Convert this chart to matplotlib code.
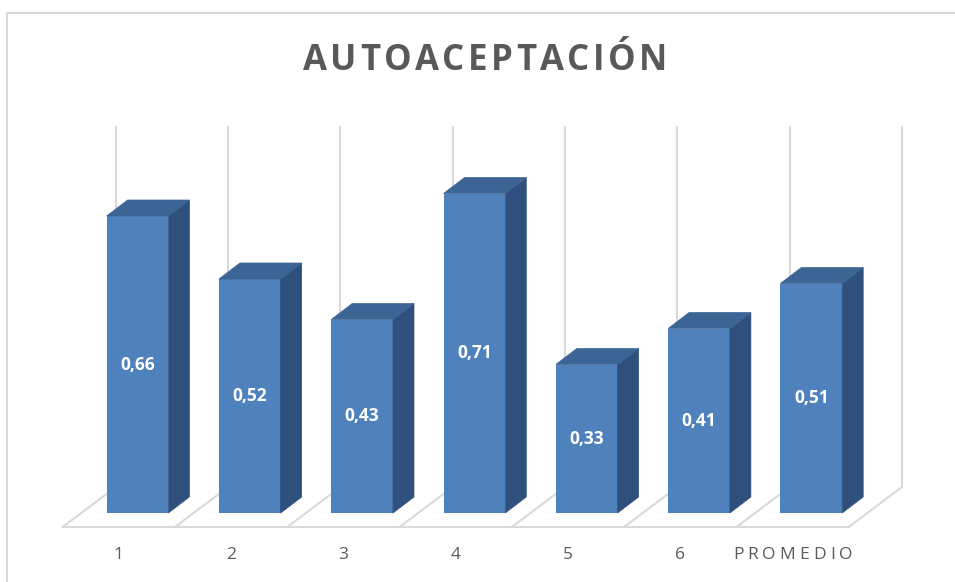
import matplotlib
matplotlib.use('Agg')
import matplotlib.pyplot as plt
from matplotlib.patches import Polygon

categories = ['1', '2', '3', '4', '5', '6', 'PROMEDIO']
values = [0.66, 0.52, 0.43, 0.71, 0.33, 0.41, 0.51]
labels = ['0,66', '0,52', '0,43', '0,71', '0,33', '0,41', '0,51']
axis_max = 0.8

FRONT = '#4F81BD'
TOP = '#3C6494'
SIDE = '#2F507C'
GRID = '#D9D9D9'
TEXT = '#595959'
FONT = ['Open Sans', 'DejaVu Sans']

W, H, DPI = 955, 582, 100
fig = plt.figure(figsize=(W / DPI, H / DPI), dpi=DPI)
ax = fig.add_axes([0, 0, 1, 1])
ax.set_axis_off()

# pixel -> data mapping: bar centre of category 0 at px 137.5, 112.3 px per category,
# zero at py 513, 450 px per unit
px0, pxs, py0, pys = 137.5, 112.3, 513, 450
ax.set_xlim(-px0 / pxs, (W - px0) / pxs)
ax.set_ylim((py0 - H) / pys, py0 / pys)

# depth offsets (data units)
bdx, bdy = 21 / pxs, 16 / pys          # bar depth
fdx, fdy = -18.7 / pxs, -14 / pys      # floor front edge relative to bar plane
wdx, wdy = 34.5 / pxs, 26 / pys        # back wall relative to bar plane

n = len(values)
xs = list(range(n))

# floor
left, right = -0.5, n - 0.5
floor_lines = [
    [(left + fdx, fdy), (right + fdx, fdy)],
]
for k in range(n + 1):
    b = k - 0.5
    floor_lines.append([(b + fdx, fdy), (b + wdx, wdy)])
for seg in floor_lines:
    ax.plot([p[0] for p in seg], [p[1] for p in seg], color=GRID, lw=1.5, zorder=1)

# back wall gridlines
for k in range(n + 1):
    b = k - 0.5 + wdx
    ax.plot([b, b], [wdy, axis_max + wdy], color=GRID, lw=1.5, zorder=1)

# bars
width = 0.55
ax.bar(xs, values, width=width, color=FRONT, zorder=3)
for x, v in zip(xs, values):
    l, r = x - width / 2, x + width / 2
    side = [(r, 0), (r + bdx, bdy), (r + bdx, v + bdy), (r, v)]
    top = [(l, v), (r, v), (r + bdx, v + bdy), (l + bdx, v + bdy)]
    ax.add_patch(Polygon(side, closed=True, facecolor=SIDE, edgecolor=SIDE, lw=0.5, zorder=3))
    ax.add_patch(Polygon(top, closed=True, facecolor=TOP, edgecolor=TOP, lw=0.5, zorder=3))

for x, v, t in zip(xs, values, labels):
    ax.text(x, v / 2, t, ha='center', va='center', color='white',
            fontsize=12.5, fontweight='bold', family=FONT, zorder=4)

fig.canvas.draw()
renderer = fig.canvas.get_renderer()


def spaced_text(xc, y, s, gap, **kw):
    # draw text with extra letter spacing, centred on xc (data x), y (data)
    widths = []
    for ch in s:
        t = ax.text(0, 0, ch, **kw)
        widths.append(t.get_window_extent(renderer).width if ch != ' ' else 6)
        t.remove()
    total = sum(widths) + gap * (len(s) - 1)
    off = -total / 2
    for ch, w in zip(s, widths):
        ax.annotate(ch, (xc, y), xytext=(off * 72 / DPI, 0), textcoords='offset points',
                    ha='left', va='center', **kw)
        off += w + gap


# category labels
label_y = (py0 - 555) / pys
for x, c in zip(xs, categories):
    if len(c) > 1:
        spaced_text(x + fdx, label_y, c, 4, color=TEXT, fontsize=12.5, family=FONT)
    else:
        ax.text(x + fdx, label_y, c, ha='center', va='center', color=TEXT,
                fontsize=12.5, family=FONT)

# title
title_y = (py0 - 61) / pys
spaced_text((485 - px0) / pxs, title_y, 'AUTOACEPTACIÓN', 3.5,
            color=TEXT, fontsize=25, fontweight='bold', family=FONT)

# chart border (top and left visible)
fig.add_artist(plt.Line2D([7 / W, 7 / W], [0, 1 - 13 / H], color=GRID, lw=1.5))
fig.add_artist(plt.Line2D([7 / W, 1], [1 - 13 / H, 1 - 13 / H], color=GRID, lw=1.5))

fig.savefig('out.png', dpi=DPI)
